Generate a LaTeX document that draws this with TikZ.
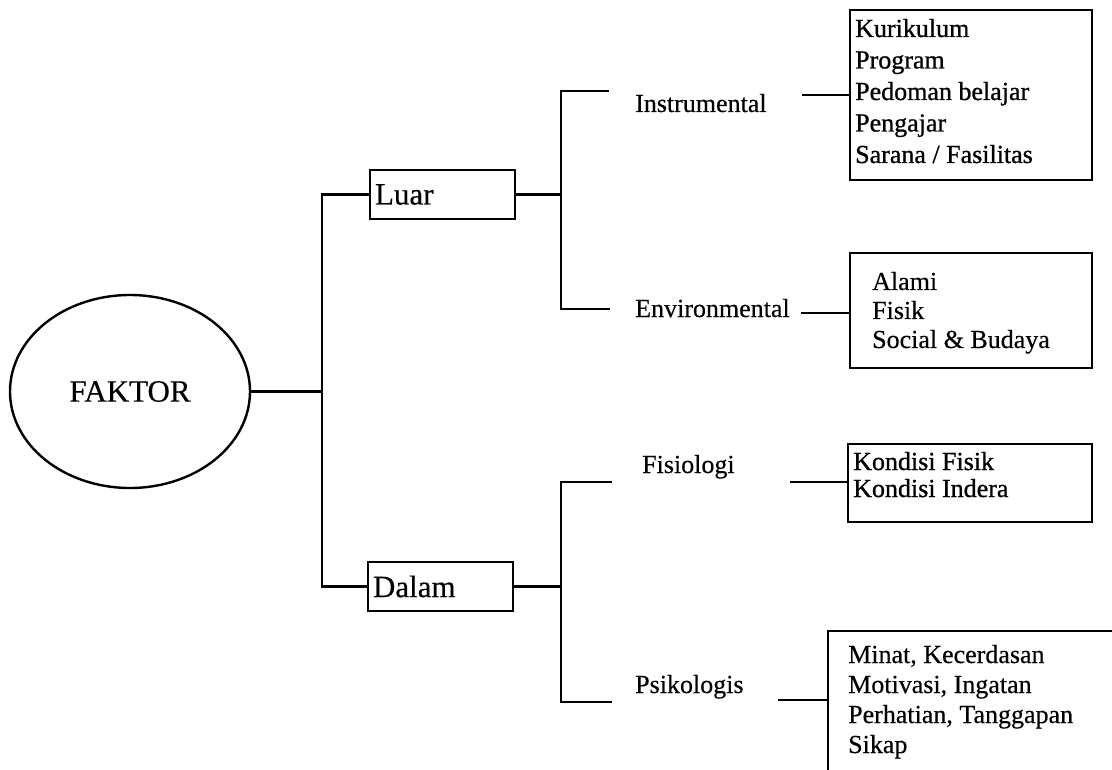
\documentclass[tikz,border=0pt]{standalone}
\usepackage{fontspec}
\setmainfont{Liberation Serif}[FakeBold=0.4]
\newfontfamily\listfont{Liberation Serif}[FakeBold=0.9]
\usetikzlibrary{shapes.geometric}
% left-aligned stack of lines whose baseline is the first line
\newcommand{\itemstack}[1]{\begin{tabular}[t]{@{}l@{}}#1\end{tabular}}
\begin{document}
\begin{tikzpicture}[x=1pt,y=-1pt,
  line/.style={line width=2.4pt},
  box/.style={draw, line width=2.4pt, rectangle, inner sep=0pt},
  lbl/.style={inner sep=0pt, anchor=base west, font=\fontsize{26}{31}\selectfont},
  big/.style={font=\fontsize{31}{36}\selectfont}]
\useasboundingbox (0,0) rectangle (1112,770);
\clip (0,0) rectangle (1112,770);

% root
\node[draw, ellipse, line width=2.4pt, minimum width=240pt, minimum height=193pt,
      inner sep=0pt, big] (faktor) at (130,391.5) {FAKTOR};

% first level
\node[box, big, minimum width=145pt, minimum height=49pt, text width=135pt,
      align=left] (luar) at (442.5,194.5) {Luar};
\node[box, big, minimum width=145pt, minimum height=49pt, text width=135pt,
      align=left] (dalam) at (440.5,586.5) {Dalam};

% second level labels
\node[lbl] (instr) at (635,112) {Instrumental};
\node[lbl] (envl)  at (635,317) {Environmental};
\node[lbl] (fisl)  at (642,473) {Fisiologi};
\node[lbl] (psil)  at (635,693) {Psikologis};

% detail boxes
\node[box, minimum width=242pt, minimum height=170pt] (insbox) at (971,95) {};
\node[box, minimum width=242pt, minimum height=115pt] (envbox) at (971,310.5) {};
\node[box, minimum width=244pt, minimum height=78pt]  (fisbox) at (970,483) {};
\node[box, minimum width=330pt, minimum height=200pt, anchor=north west] (psibox) at (827,630) {};

\node[lbl, font=\listfont\fontsize{26}{31.5}\selectfont] (inslist) at (855,37)
  {\itemstack{Kurikulum\\Program\\Pedoman belajar\\Pengajar\\Sarana / Fasilitas}};
\node[lbl, font=\fontsize{26}{29}\selectfont] (envlist) at (872,290)
  {\itemstack{Alami\\Fisik\\Social \& Budaya}};
\node[lbl, font=\listfont\fontsize{26}{27}\selectfont] (fislist) at (853,470)
  {\itemstack{Kondisi Fisik\\Kondisi Indera}};
\node[lbl, font=\fontsize{26}{30}\selectfont] (psilist) at (848,663)
  {\itemstack{Minat, Kecerdasan\\Motivasi, Ingatan\\Perhatian, Tanggapan\\Sikap}};

% junction columns and free ends of the brackets
\coordinate (ja) at (322,0);
\coordinate (jb) at (561,0);
\coordinate (tInst) at (609,91);
\coordinate (tEnv)  at (610,309);
\coordinate (tFis)  at (612,482);
\coordinate (tPsi)  at (612,702);
\coordinate (aInst) at (802,95);
\coordinate (aEnv)  at (801,313);
\coordinate (aFis)  at (790,482);
\coordinate (aPsi)  at (778,700);

% root to first level
\draw[line] (faktor.east) -- (faktor.east -| ja);
\draw[line] (luar.west) -| (ja |- dalam.west) -- (dalam.west);

% first level to second level
\draw[line] (luar.east) -- (luar.east -| jb);
\draw[line] (tInst) -| (jb |- tEnv) -- (tEnv);
\draw[line] (dalam.east) -- (dalam.east -| jb);
\draw[line] (tFis) -| (jb |- tPsi) -- (tPsi);

% second level to detail boxes
\draw[line] (aInst) -- (aInst -| insbox.west);
\draw[line] (aEnv)  -- (aEnv -| envbox.west);
\draw[line] (aFis)  -- (aFis -| fisbox.west);
\draw[line] (aPsi)  -- (aPsi -| psibox.west);
\end{tikzpicture}
\end{document}
